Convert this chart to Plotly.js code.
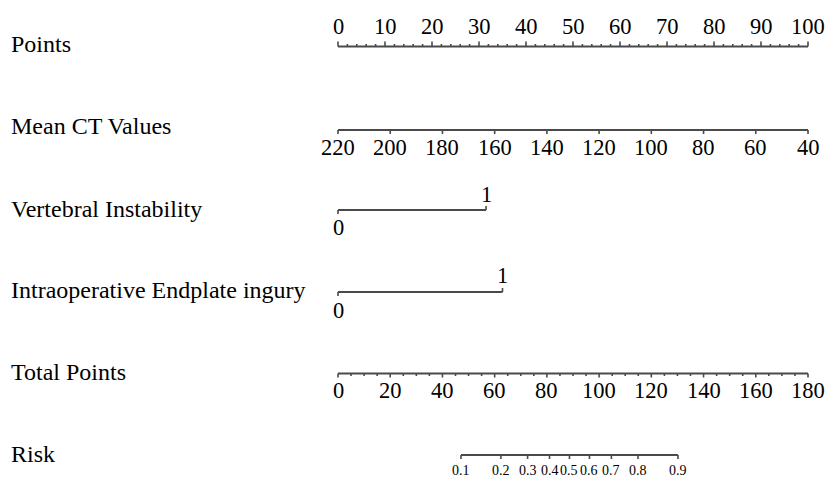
<!DOCTYPE html>
<html><head><meta charset="utf-8">
<script src="https://cdn.plot.ly/plotly-3.0.1.min.js"></script>
<style>html,body{margin:0;padding:0;background:#fff}</style>
</head><body>
<div id="chart" style="width:828px;height:478px"></div>
<script>
// ---- data ----
const rowLabels = ["Points", "Mean CT Values", "Vertebral Instability", "Intraoperative Endplate ingury", "Total Points", "Risk"];
const pointsTicks = [0, 10, 20, 30, 40, 50, 60, 70, 80, 90, 100];
const pointsMinor = [2, 4, 6, 8, 12, 14, 16, 18, 22, 24, 26, 28, 32, 34, 36, 38, 42, 44, 46, 48, 52, 54, 56, 58, 62, 64, 66, 68, 72, 74, 76, 78, 82, 84, 86, 88, 92, 94, 96, 98];
const ctTicks = [220, 200, 180, 160, 140, 120, 100, 80, 60, 40];
const ctAtZero = 220, ctAtMax = 40;          // CT value at 0 and 100 points
const viLevels = [0, 1];
const viPoints = [0, 31.5];
const eiLevels = [0, 1];
const eiPoints = [0, 35.0];
const totalTicks = [0, 20, 40, 60, 80, 100, 120, 140, 160, 180];
const totalMinor = [5, 10, 15, 25, 30, 35, 45, 50, 55, 65, 70, 75, 85, 90, 95, 105, 110, 115, 125, 130, 135, 145, 150, 155, 165, 170, 175];
const totalMax = 180;
const riskTicks = ["0.1", "0.2", "0.3", "0.4", "0.5", "0.6", "0.7", "0.8", "0.9"];
const riskTotalPoints = [47.1, 62.4, 72.6, 81.0, 88.65, 96.3, 104.7, 114.9, 130.2];

// ---- scales (everything in "Points" units on the x axis) ----
const ctToPts = v => (ctAtZero - v) / (ctAtZero - ctAtMax) * 100;
const totToPts = v => v / totalMax * 100;

// ---- layout rows (pixel rows on a reversed y axis) ----
const LINE = "#4a4a4a", TXT = "#000";
const FONT = "Liberation Serif, Times New Roman, serif";
const rowY = {points: 46.5, ct: 130, vi: 210, ei: 292, total: 373.5, risk: 455};
const labelY = [44, 126, 209, 290, 372, 454];
const TICKFS = 22.5, ROWFS = 24, RISKFS = 14;

const traces = [];
const annotations = [];

function axisLine(x0, x1, y) {
  traces.push({x: [x0, x1], y: [y, y], mode: "lines", line: {color: LINE, width: 2}, hoverinfo: "skip"});
}
function tickSet(xs, y, len) {
  const X = [], Y = [];
  xs.forEach(v => { X.push(v, v, null); Y.push(y, y + len, null); });
  traces.push({x: X, y: Y, mode: "lines", line: {color: LINE, width: 1.6}, hoverinfo: "skip"});
}
function labels(xs, texts, y, size) {
  xs.forEach((v, i) => annotations.push({
    x: v, y: y, xref: "x", yref: "y", text: String(texts[i]), showarrow: false,
    xanchor: "center", yanchor: "middle", borderpad: 0,
    font: {family: FONT, size: size, color: TXT}
  }));
}

// Points
axisLine(pointsTicks[0], pointsTicks[pointsTicks.length - 1], rowY.points);
tickSet(pointsTicks, rowY.points, -5);
tickSet(pointsMinor, rowY.points, -2.5);
labels(pointsTicks, pointsTicks, 26, TICKFS);

// Mean CT
const ctX = ctTicks.map(ctToPts);
axisLine(ctX[0], ctX[ctX.length - 1], rowY.ct);
tickSet(ctX, rowY.ct, 4);
labels(ctX, ctTicks, 147.5, TICKFS);

// Vertebral instability
axisLine(viPoints[0], viPoints[1], rowY.vi);
tickSet([viPoints[0]], rowY.vi, 4);
tickSet([viPoints[1]], rowY.vi, -4);
labels([viPoints[0]], [viLevels[0]], 227, TICKFS);
labels([viPoints[1]], [viLevels[1]], 194, TICKFS);

// Endplate injury
axisLine(eiPoints[0], eiPoints[1], rowY.ei);
tickSet([eiPoints[0]], rowY.ei, 4);
tickSet([eiPoints[1]], rowY.ei, -4);
labels([eiPoints[0]], [eiLevels[0]], 310, TICKFS);
labels([eiPoints[1]], [eiLevels[1]], 275, TICKFS);

// Total points
const totX = totalTicks.map(totToPts);
axisLine(totX[0], totX[totX.length - 1], rowY.total);
tickSet(totX, rowY.total, 4);
tickSet(totalMinor.map(totToPts), rowY.total, 2.5);
labels(totX, totalTicks, 390.5, TICKFS);

// Risk
const riskX = riskTotalPoints.map(totToPts);
axisLine(riskX[0], riskX[riskX.length - 1], rowY.risk);
tickSet(riskX, rowY.risk, 4);
labels(riskX, riskTicks, 470.5, RISKFS);

// Row labels
rowLabels.forEach((t, i) => annotations.push({
  x: 10 / 828, y: labelY[i], xref: "paper", yref: "y", text: t, showarrow: false,
  xanchor: "left", yanchor: "middle", borderpad: 0,
  font: {family: FONT, size: ROWFS, color: TXT}
}));

const W = 828, H = 478, X0 = 338, X100 = 808;
const pxPerPt = (X100 - X0) / 100;
const layout = {
  width: W, height: H, margin: {l: 0, r: 0, t: 0, b: 0},
  paper_bgcolor: "#fff", plot_bgcolor: "#fff", showlegend: false,
  xaxis: {range: [-X0 / pxPerPt, (W - X0) / pxPerPt], visible: false, fixedrange: true},
  yaxis: {range: [H, 0], visible: false, fixedrange: true},
  annotations: annotations
};
Plotly.newPlot("chart", traces, layout, {staticPlot: true, displayModeBar: false});
</script>
</body></html>
